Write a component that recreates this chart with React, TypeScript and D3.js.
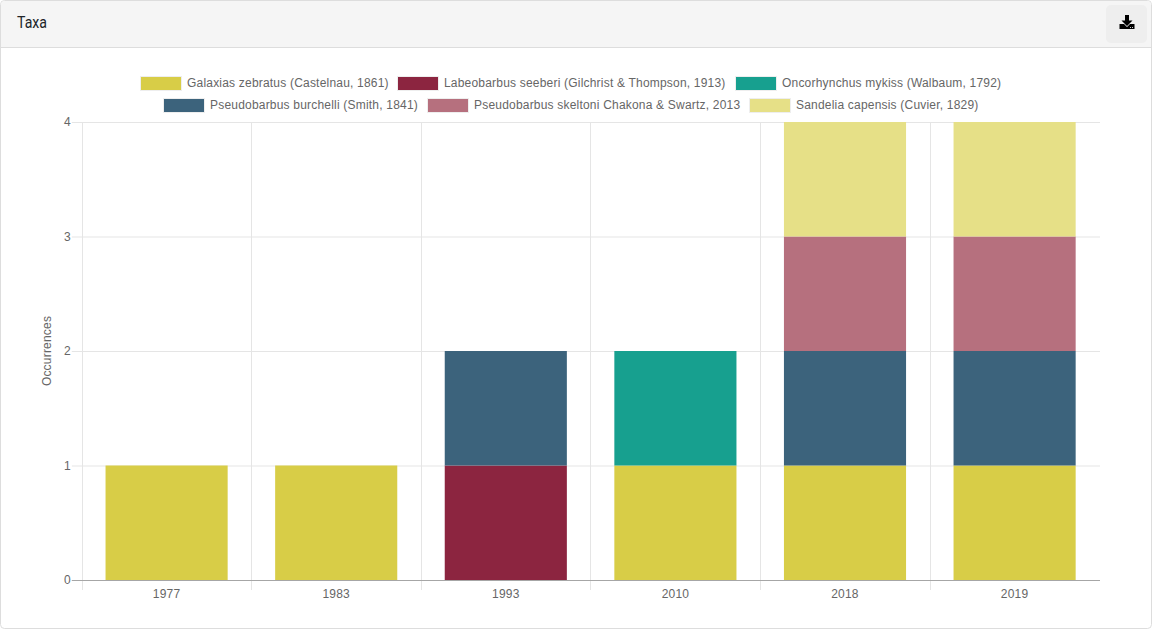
import React from "react";
import * as d3 from "d3";

const WIDTH = 1152;
const HEIGHT = 629;
const MARGIN = { top: 122, right: 52.6, bottom: 49, left: 81.8 };
const BAR_PADDING = 0.28;
const FONT = "'Liberation Sans', Arial, sans-serif";
const LETTER_SPACING = 0.2;

const years = ["1977", "1983", "1993", "2010", "2018", "2019"];
const yTicks = [0, 1, 2, 3, 4];

const taxa = [
  "Galaxias zebratus (Castelnau, 1861)",
  "Labeobarbus seeberi (Gilchrist & Thompson, 1913)",
  "Oncorhynchus mykiss (Walbaum, 1792)",
  "Pseudobarbus burchelli (Smith, 1841)",
  "Pseudobarbus skeltoni Chakona & Swartz, 2013",
  "Sandelia capensis (Cuvier, 1829)",
];
const colors = ["#d8cd47", "#8c2540", "#17a08f", "#3c637c", "#b6707e", "#e6e087"];

// occurrences per year, same order as years
const galaxias = [1, 1, 0, 1, 1, 1];
const labeobarbus = [0, 0, 1, 0, 0, 0];
const oncorhynchus = [0, 0, 0, 1, 0, 0];
const burchelli = [0, 0, 1, 0, 1, 1];
const skeltoni = [0, 0, 0, 0, 1, 1];
const sandelia = [0, 0, 0, 0, 1, 1];
const seriesValues = [galaxias, labeobarbus, oncorhynchus, burchelli, skeltoni, sandelia];

const legendRows = [[0, 1, 2], [3, 4, 5]];
const LEGEND_BOX = 40;
const LEGEND_GAP = 10;
const LEGEND_CENTER = 571;

const measure = (text: string) => {
  const ctx = document.createElement("canvas").getContext("2d")!;
  ctx.font = `12px ${FONT}`;
  return ctx.measureText(text).width + text.length * LETTER_SPACING;
};

const Legend = () => (
  <g fontFamily={FONT} fontSize={12} fill="#666" letterSpacing={LETTER_SPACING}>
    {legendRows.map((row, r) => {
      const widths = row.map((i) => LEGEND_BOX + 6 + measure(taxa[i]));
      const total = d3.sum(widths) + LEGEND_GAP * (row.length - 1);
      let x = LEGEND_CENTER - total / 2;
      const y = 83 + r * 22;
      return row.map((i, k) => {
        const itemX = Math.round(x);
        x += widths[k] + LEGEND_GAP;
        return (
          <g key={i}>
            <rect x={itemX - 1} y={y - 7} width={LEGEND_BOX + 2} height={15} fill="#eee" />
            <rect x={itemX} y={y - 6} width={LEGEND_BOX} height={13} fill={colors[i]} />
            <text x={itemX + LEGEND_BOX + 6} y={y} dominantBaseline="central">{taxa[i]}</text>
          </g>
        );
      });
    })}
  </g>
);

export default function App() {
  const boundsWidth = WIDTH - MARGIN.left - MARGIN.right;
  const boundsHeight = HEIGHT - MARGIN.top - MARGIN.bottom;

  const xScale = d3.scaleBand().domain(years).range([0, boundsWidth]);
  const barScale = d3
    .scaleBand()
    .domain(years)
    .range([0, boundsWidth])
    .paddingInner(BAR_PADDING)
    .paddingOuter(BAR_PADDING / 2);
  const yScale = d3.scaleLinear().domain([0, 4]).range([boundsHeight, 0]);

  const stackData = years.map((year, i) => {
    const row: Record<string, number | string> = { year };
    taxa.forEach((t, s) => { row[t] = seriesValues[s][i]; });
    return row;
  });
  const stacked = d3.stack<any>().keys(taxa)(stackData);

  // snap vertical lines to whole pixels of the page
  const snapX = (x: number) => Math.round(x + MARGIN.left - 0.3) + 0.5 - MARGIN.left;
  const axisEnd = Math.ceil(boundsWidth + MARGIN.left) - MARGIN.left;

  return (
    <svg width={WIDTH} height={HEIGHT} style={{ position: "absolute", left: 0, top: 0, background: "#fff" }}>
      {/* card */}
      <rect x={0.5} y={0.5} width={WIDTH - 1} height={HEIGHT - 1} rx={4} fill="#fff" stroke="#ddd" />
      <path d={`M1 47.5V5a4 4 0 0 1 4-4H${WIDTH - 5}a4 4 0 0 1 4 4V47.5Z`} fill="#f5f5f5" />
      <line x1={1} x2={WIDTH - 1} y1={47.5} y2={47.5} stroke="#ddd" />
      <text x={17} y={22} dominantBaseline="central" fontFamily="Roboto, sans-serif" fontSize={17} textLength={30} lengthAdjust="spacingAndGlyphs" fill="#212529">Taxa</text>
      <rect x={1106} y={5} width={41} height={38} rx={5} fill="#eeeeee" />
      {/* download icon */}
      <g fill="#000">
        <path d="M1125 15h4v5.5h3.5l-5.5 5.5-5.5-5.5h3.5Z" />
        <path d="M1119.5 24h4.5l3 3 3-3h4.5v5h-15Z" />
      </g>
      <rect x={1130} y={27} width={1} height={1} fill="#ccc" />
      <rect x={1132} y={27} width={1} height={1} fill="#ccc" />

      <Legend />

      <g transform={`translate(${MARGIN.left},${MARGIN.top})`} fontFamily={FONT} fontSize={12} fill="#666" letterSpacing={LETTER_SPACING}>
        {/* grid */}
        {years.map((y) => (
          <line key={y} x1={snapX(xScale(y)!)} x2={snapX(xScale(y)!)} y1={0} y2={boundsHeight + 10} stroke="#e5e5e5" />
        ))}
        {yTicks.map((t) => (
          <g key={t}>
            <line
              x1={-10}
              x2={axisEnd}
              y1={yScale(t) + 0.5}
              y2={yScale(t) + 0.5}
              stroke={t === 0 ? "#a6a6a6" : "#e5e5e5"}
            />
            <text x={-11} y={yScale(t)} textAnchor="end" dominantBaseline="central">{t}</text>
          </g>
        ))}

        {/* bars */}
        {stacked.map((layer, s) =>
          layer.map((d, i) =>
            d[1] > d[0] ? (
              <rect
                key={`${s}-${i}`}
                x={barScale(years[i])}
                y={yScale(d[1])}
                width={barScale.bandwidth()}
                height={yScale(d[0]) - yScale(d[1])}
                fill={colors[s]}
              />
            ) : null
          )
        )}

        {years.map((y) => (
          <text key={y} x={xScale(y)! + xScale.bandwidth() / 2} y={boundsHeight + 14} textAnchor="middle" dominantBaseline="central">
            {y}
          </text>
        ))}
        <text
          transform={`translate(-35,${boundsHeight / 2}) rotate(-90)`}
          textAnchor="middle"
          dominantBaseline="central"
        >
          Occurrences
        </text>
      </g>
    </svg>
  );
}
